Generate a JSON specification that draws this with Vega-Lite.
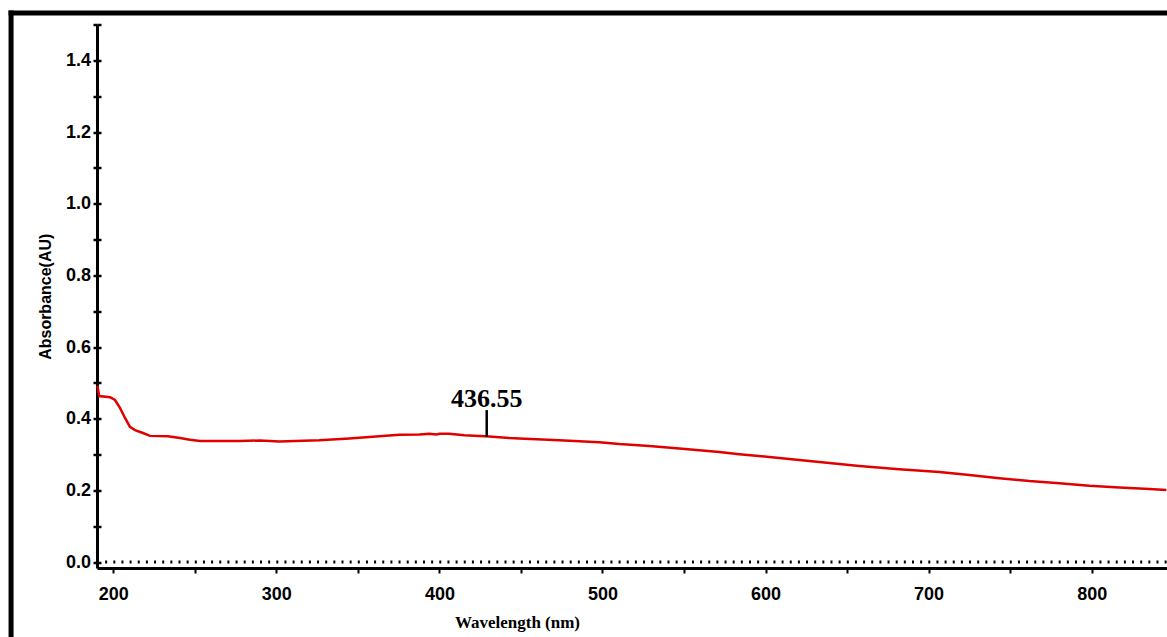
{
  "$schema": "https://vega.github.io/schema/vega-lite/v6.json",
  "autosize": {"type": "none"},
  "width": 1069.7,
  "height": 543.5,
  "padding": {"left": 97, "top": 24.5, "right": 0, "bottom": 69},
  "background": "white",
  "config": {"view": {"stroke": null}},
  "datasets": {
    "spectrum": [
      {"wavelength": 190.3, "absorbance": 0.492},
      {"wavelength": 191.3, "absorbance": 0.463},
      {"wavelength": 198.0, "absorbance": 0.460},
      {"wavelength": 201.0, "absorbance": 0.452},
      {"wavelength": 204.1, "absorbance": 0.430},
      {"wavelength": 207.2, "absorbance": 0.402},
      {"wavelength": 210.2, "absorbance": 0.377},
      {"wavelength": 213.3, "absorbance": 0.368},
      {"wavelength": 218.2, "absorbance": 0.360},
      {"wavelength": 222.5, "absorbance": 0.352},
      {"wavelength": 233.5, "absorbance": 0.351},
      {"wavelength": 240.9, "absorbance": 0.346},
      {"wavelength": 247.0, "absorbance": 0.341},
      {"wavelength": 253.2, "absorbance": 0.338},
      {"wavelength": 277.7, "absorbance": 0.338},
      {"wavelength": 289.9, "absorbance": 0.339},
      {"wavelength": 301.8, "absorbance": 0.336},
      {"wavelength": 326.3, "absorbance": 0.340},
      {"wavelength": 344.7, "absorbance": 0.345},
      {"wavelength": 363.1, "absorbance": 0.351},
      {"wavelength": 375.4, "absorbance": 0.355},
      {"wavelength": 387.7, "absorbance": 0.356},
      {"wavelength": 393.8, "absorbance": 0.358},
      {"wavelength": 398.2, "absorbance": 0.356},
      {"wavelength": 400.0, "absorbance": 0.358},
      {"wavelength": 406.0, "absorbance": 0.358},
      {"wavelength": 415.2, "absorbance": 0.354},
      {"wavelength": 430.6, "absorbance": 0.350},
      {"wavelength": 442.8, "absorbance": 0.346},
      {"wavelength": 449.0, "absorbance": 0.345},
      {"wavelength": 473.5, "absorbance": 0.340},
      {"wavelength": 498.0, "absorbance": 0.334},
      {"wavelength": 510.3, "absorbance": 0.329},
      {"wavelength": 528.7, "absorbance": 0.324},
      {"wavelength": 547.1, "absorbance": 0.317},
      {"wavelength": 559.4, "absorbance": 0.312},
      {"wavelength": 571.6, "absorbance": 0.307},
      {"wavelength": 583.9, "absorbance": 0.301},
      {"wavelength": 602.3, "absorbance": 0.293},
      {"wavelength": 620.7, "absorbance": 0.285},
      {"wavelength": 639.1, "absorbance": 0.276},
      {"wavelength": 657.5, "absorbance": 0.268},
      {"wavelength": 682.0, "absorbance": 0.259},
      {"wavelength": 706.6, "absorbance": 0.251},
      {"wavelength": 725.0, "absorbance": 0.243},
      {"wavelength": 743.4, "absorbance": 0.234},
      {"wavelength": 761.8, "absorbance": 0.226},
      {"wavelength": 780.2, "absorbance": 0.220},
      {"wavelength": 798.6, "absorbance": 0.213},
      {"wavelength": 817.0, "absorbance": 0.208},
      {"wavelength": 835.4, "absorbance": 0.204},
      {"wavelength": 845.8, "absorbance": 0.201}
    ],
    "peak": [
      {"wavelength": 429.0, "absorbance": 0.349, "top": 0.424, "textY": 0.433, "label": "436.55"}
    ]
  },
  "resolve": {"axis": {"y": "independent"}},
  "layer": [
    {
      "data": {"name": "spectrum"},
      "mark": {"type": "line", "color": "#e00000", "strokeWidth": 2.5},
      "encoding": {
        "x": {
          "field": "wavelength", "type": "quantitative",
          "scale": {"domain": [190, 846], "nice": false, "zero": false},
          "axis": {
            "title": "Wavelength (nm)",
            "values": [200, 250, 300, 350, 400, 450, 500, 550, 600, 650, 700, 750, 800],
            "labelExpr": "datum.value % 100 == 0 ? datum.label : ''",
            "grid": false,
            "domainColor": "black", "domainWidth": 3,
            "tickColor": "black", "tickWidth": 2, "tickSize": 5,
            "labelFont": "Liberation Sans", "labelFontWeight": "bold", "labelFontSize": 18,
            "labelColor": "black", "labelPadding": 13, "labelFlush": false,
            "titleFont": "Liberation Serif", "titleFontWeight": "bold", "titleFontSize": 17,
            "titleColor": "black", "titleAnchor": "middle", "titleX": 420, "titleY": 60,
            "titleBaseline": "alphabetic"
          }
        },
        "y": {
          "field": "absorbance", "type": "quantitative",
          "scale": {"domain": [-0.0167, 1.5], "nice": false, "zero": false},
          "axis": {
            "title": "Absorbance(AU)",
            "orient": "left",
            "values": [0, 0.1, 0.2, 0.3, 0.4, 0.5, 0.6, 0.7, 0.8, 0.9, 1.0, 1.1, 1.2, 1.3, 1.4, 1.5],
            "labelExpr": "indexof(['0.0','0.2','0.4','0.6','0.8','1.0','1.2','1.4'], format(datum.value, '.1f')) >= 0 ? format(datum.value, '.1f') : ''",
            "grid": false,
            "domainColor": "black", "domainWidth": 3,
            "tickColor": "black", "tickWidth": 2.5, "tickSize": 4,
            "labelFont": "Liberation Sans", "labelFontWeight": "bold", "labelFontSize": 18,
            "labelColor": "black", "labelPadding": 2.5, "labelFlush": false,
            "titleFont": "Liberation Sans", "titleFontWeight": "bold", "titleFontSize": 16,
            "titleColor": "black", "titlePadding": 12
          }
        }
      }
    },
    {
      "data": {"name": "peak"},
      "mark": {"type": "rule", "color": "black", "strokeWidth": 2.5},
      "encoding": {
        "x": {"field": "wavelength", "type": "quantitative"},
        "y": {
          "field": "absorbance", "type": "quantitative",
          "axis": {
            "orient": "left", "title": null, "labels": false, "domain": false, "grid": false,
            "offset": -4,
            "values": [0, 0.1, 0.2, 0.3, 0.4, 0.5, 0.6, 0.7, 0.8, 0.9, 1.0, 1.1, 1.2, 1.3, 1.4, 1.5],
            "tickColor": "black", "tickWidth": 2.5, "tickSize": 4
          }
        },
        "y2": {"field": "top"}
      }
    },
    {
      "data": {"name": "peak"},
      "mark": {"type": "text", "font": "Liberation Serif", "fontWeight": "bold", "fontSize": 26, "color": "black", "baseline": "alphabetic", "align": "center"},
      "encoding": {
        "x": {"field": "wavelength", "type": "quantitative"},
        "y": {"field": "textY", "type": "quantitative", "axis": null},
        "text": {"field": "label"}
      }
    },
    {
      "data": {"values": [{}]},
      "mark": {"type": "rule", "color": "black", "strokeWidth": 3, "strokeDash": [2, 6.15]},
      "encoding": {
        "y": {"datum": 0, "type": "quantitative", "axis": null},
        "x": {"datum": 190, "type": "quantitative"},
        "x2": {"datum": 846}
      }
    },
    {
      "data": {"values": [{}]},
      "mark": {"type": "rule", "color": "black", "strokeWidth": 5, "strokeCap": "square"},
      "encoding": {
        "y": {"datum": 1.532, "type": "quantitative", "axis": null},
        "x": {"datum": 137.3, "type": "quantitative"},
        "x2": {"datum": 900}
      }
    },
    {
      "data": {"values": [{}]},
      "mark": {"type": "rule", "color": "black", "strokeWidth": 5, "strokeCap": "square"},
      "encoding": {
        "x": {"datum": 137.3, "type": "quantitative"},
        "y": {"datum": 1.532, "type": "quantitative", "axis": null},
        "y2": {"datum": -0.3}
      }
    }
  ]
}
